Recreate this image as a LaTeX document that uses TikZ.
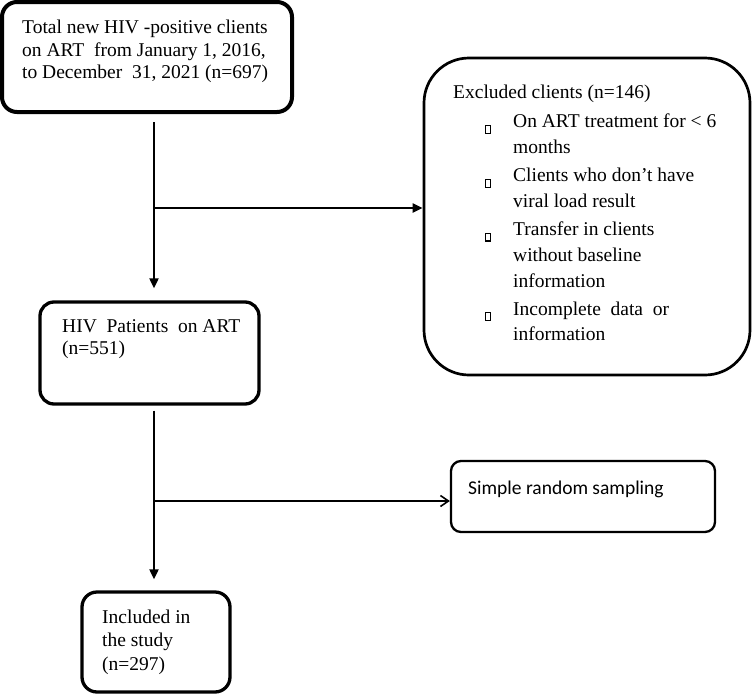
\documentclass[tikz,border=0pt]{standalone}
\usepackage{fontspec}
\setmainfont{Liberation Serif}
\newfontfamily\calibfont{Carlito}
\usetikzlibrary{arrows.meta}
\newcommand{\bul}{\raisebox{-5pt}{\setlength\fboxsep{0pt}\setlength\fboxrule{1.1pt}\fbox{\rule{0pt}{6.8pt}\hspace{3.8pt}}}}
\begin{document}
\begin{tikzpicture}[x=1pt,y=-1pt,
  box/.style={draw, rounded corners=14pt, inner sep=0pt, line width=3.3pt},
  txt/.style={anchor=north west, align=left, inner sep=0pt},
  conn/.style={line width=2pt},
  filltip/.style={-{Triangle[length=10pt,width=9pt]}},
  opentip/.style={-{Straight Barb[length=8pt,width=11pt,line width=1.6pt]}}]
\useasboundingbox (0,0) rectangle (753,694);
% boxes
\node[box, line width=4pt, rounded corners=15pt, minimum width=290pt, minimum height=110pt] (box1) at (147,57) {};
\node[box, minimum width=219pt, minimum height=102pt] (box2) at (149.5,353) {};
\node[box, rounded corners=15pt, minimum width=148pt, minimum height=100pt] (box3) at (156,642) {};
\node[box, line width=2.7pt, rounded corners=45pt, minimum width=326pt, minimum height=317pt] (excl) at (587,216.5) {};
\node[box, line width=2.3pt, rounded corners=10pt, minimum width=264pt, minimum height=71pt] (srs) at (583,496.5) {};
% texts
\node[txt, font=\fontsize{19.5}{22.8}\selectfont] (t1) at (22,18)
  {\rule{0pt}{15pt}Total new HIV -positive clients\\on ART\ \ from January 1, 2016,\\to December\ \ 31, 2021 (n=697)};
\node[txt, font=\fontsize{19.5}{22.5}\selectfont] (t2) at (62,317)
  {\rule{0pt}{15pt}HIV\ \ Patients\ \ on ART\\(n=551)};
\node[txt, font=\fontsize{19.5}{23.5}\selectfont] (t3) at (102,608)
  {\rule{0pt}{15pt}Included in\\the study\\(n=297)};
\node[txt, font=\fontsize{19.5}{25.8}\selectfont] (t4) at (453,83)
  {\rule{0pt}{15pt}Excluded clients (n=146)\\[3.8pt]
   \hspace*{32pt}\makebox[28pt][l]{\bul}On ART treatment for < 6\\
   \hspace*{60pt}months\\[2.2pt]
   \hspace*{32pt}\makebox[28pt][l]{\bul}Clients who don’t have\\
   \hspace*{60pt}viral load result\\[2.2pt]
   \hspace*{32pt}\makebox[28pt][l]{\bul}Transfer in clients\\
   \hspace*{60pt}without baseline\\
   \hspace*{60pt}information\\[2.2pt]
   \hspace*{32pt}\makebox[28pt][l]{\bul}Incomplete\ \ data\ \ or\\
   \hspace*{60pt}information};
\node[txt, font=\calibfont\fontsize{19.5}{23}\selectfont] (t5) at (468,479)
  {\rule{0pt}{15pt}Simple random sampling};
% connectors
\coordinate (j1) at (154,208);
\coordinate (j2) at (154,501);
\draw[conn, filltip, shorten <=8pt, shorten >=12pt] (box1.south -| j1) -- (box2.north -| j1);
\draw[conn, filltip] (j1) -- (excl.west |- j1);
\draw[conn, filltip, shorten <=5pt, shorten >=11pt] (box2.south -| j2) -- (box3.north -| j2);
\draw[conn, line width=1.7pt, opentip] (j2) -- (srs.west |- j2);
\end{tikzpicture}
\end{document}
